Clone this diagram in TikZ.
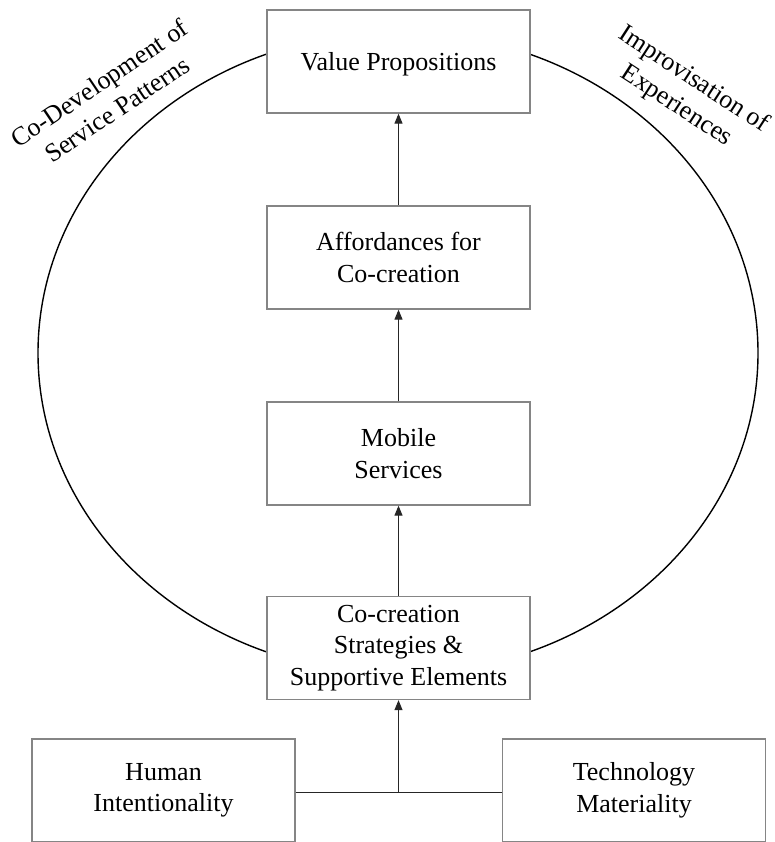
\documentclass[tikz,border=0pt]{standalone}
\usepackage{fontspec}
\setmainfont{Liberation Serif}
\usetikzlibrary{arrows.meta}

\begin{document}
\begin{tikzpicture}[x=1pt,y=-1pt,
  box/.style={draw=black!48, line width=1.3pt, fill=white,
    minimum width=263pt, minimum height=103pt, inner sep=0pt,
    align=center, font=\fontsize{26}{31.5}\selectfont,
    execute at begin node={\rule{0pt}{24pt}}},
  lbl/.style={align=center, inner sep=0pt, font=\fontsize{26}{31.5}\selectfont},
  flow/.style={draw=black!85, line width=1pt, -{Triangle[width=8pt,length=10pt]}},
  link/.style={draw=black!85, line width=1pt},
  loop/.style={draw=black, line width=1.4pt}]

\useasboundingbox (0,0) rectangle (775,842);

% the surrounding cycle
\draw[loop] (398,353) ellipse [x radius=360, y radius=321];

% central chain of boxes
\node[box] (vp)  at (398.5,61.5)  {Value Propositions};
\node[box] (aff) at (398.5,257.5) {Affordances for\\Co-creation};
\node[box] (mob) at (398.5,453.5) {Mobile\\Services};
\node[box] (cc)  at (398.5,648)   {Co-creation\\Strategies \&\\Supportive Elements};

% foundations
\node[box] (hum)  at (163.5,790.5) {Human\\Intentionality};
\node[box] (tech) at (634,790.5)   {Technology\\Materiality};

% cycle labels
\node[lbl, rotate=34]  (codev) at (108,96) {Co-Development of\\Service Patterns};
\node[lbl, rotate=-33] (impro) at (685,93) {Improvisation of\\Experiences};

% connectors
\draw[flow] (aff.north) -- (vp.south);
\draw[flow] (mob.north) -- (aff.south);
\draw[flow] (cc.north) -- (mob.south);
\draw[link] (hum.east |- 0,792) -- (tech.west |- 0,792);
\coordinate (join) at (cc.south |- 0,792);
\draw[flow] (join) -- (cc.south);
\end{tikzpicture}
\end{document}
